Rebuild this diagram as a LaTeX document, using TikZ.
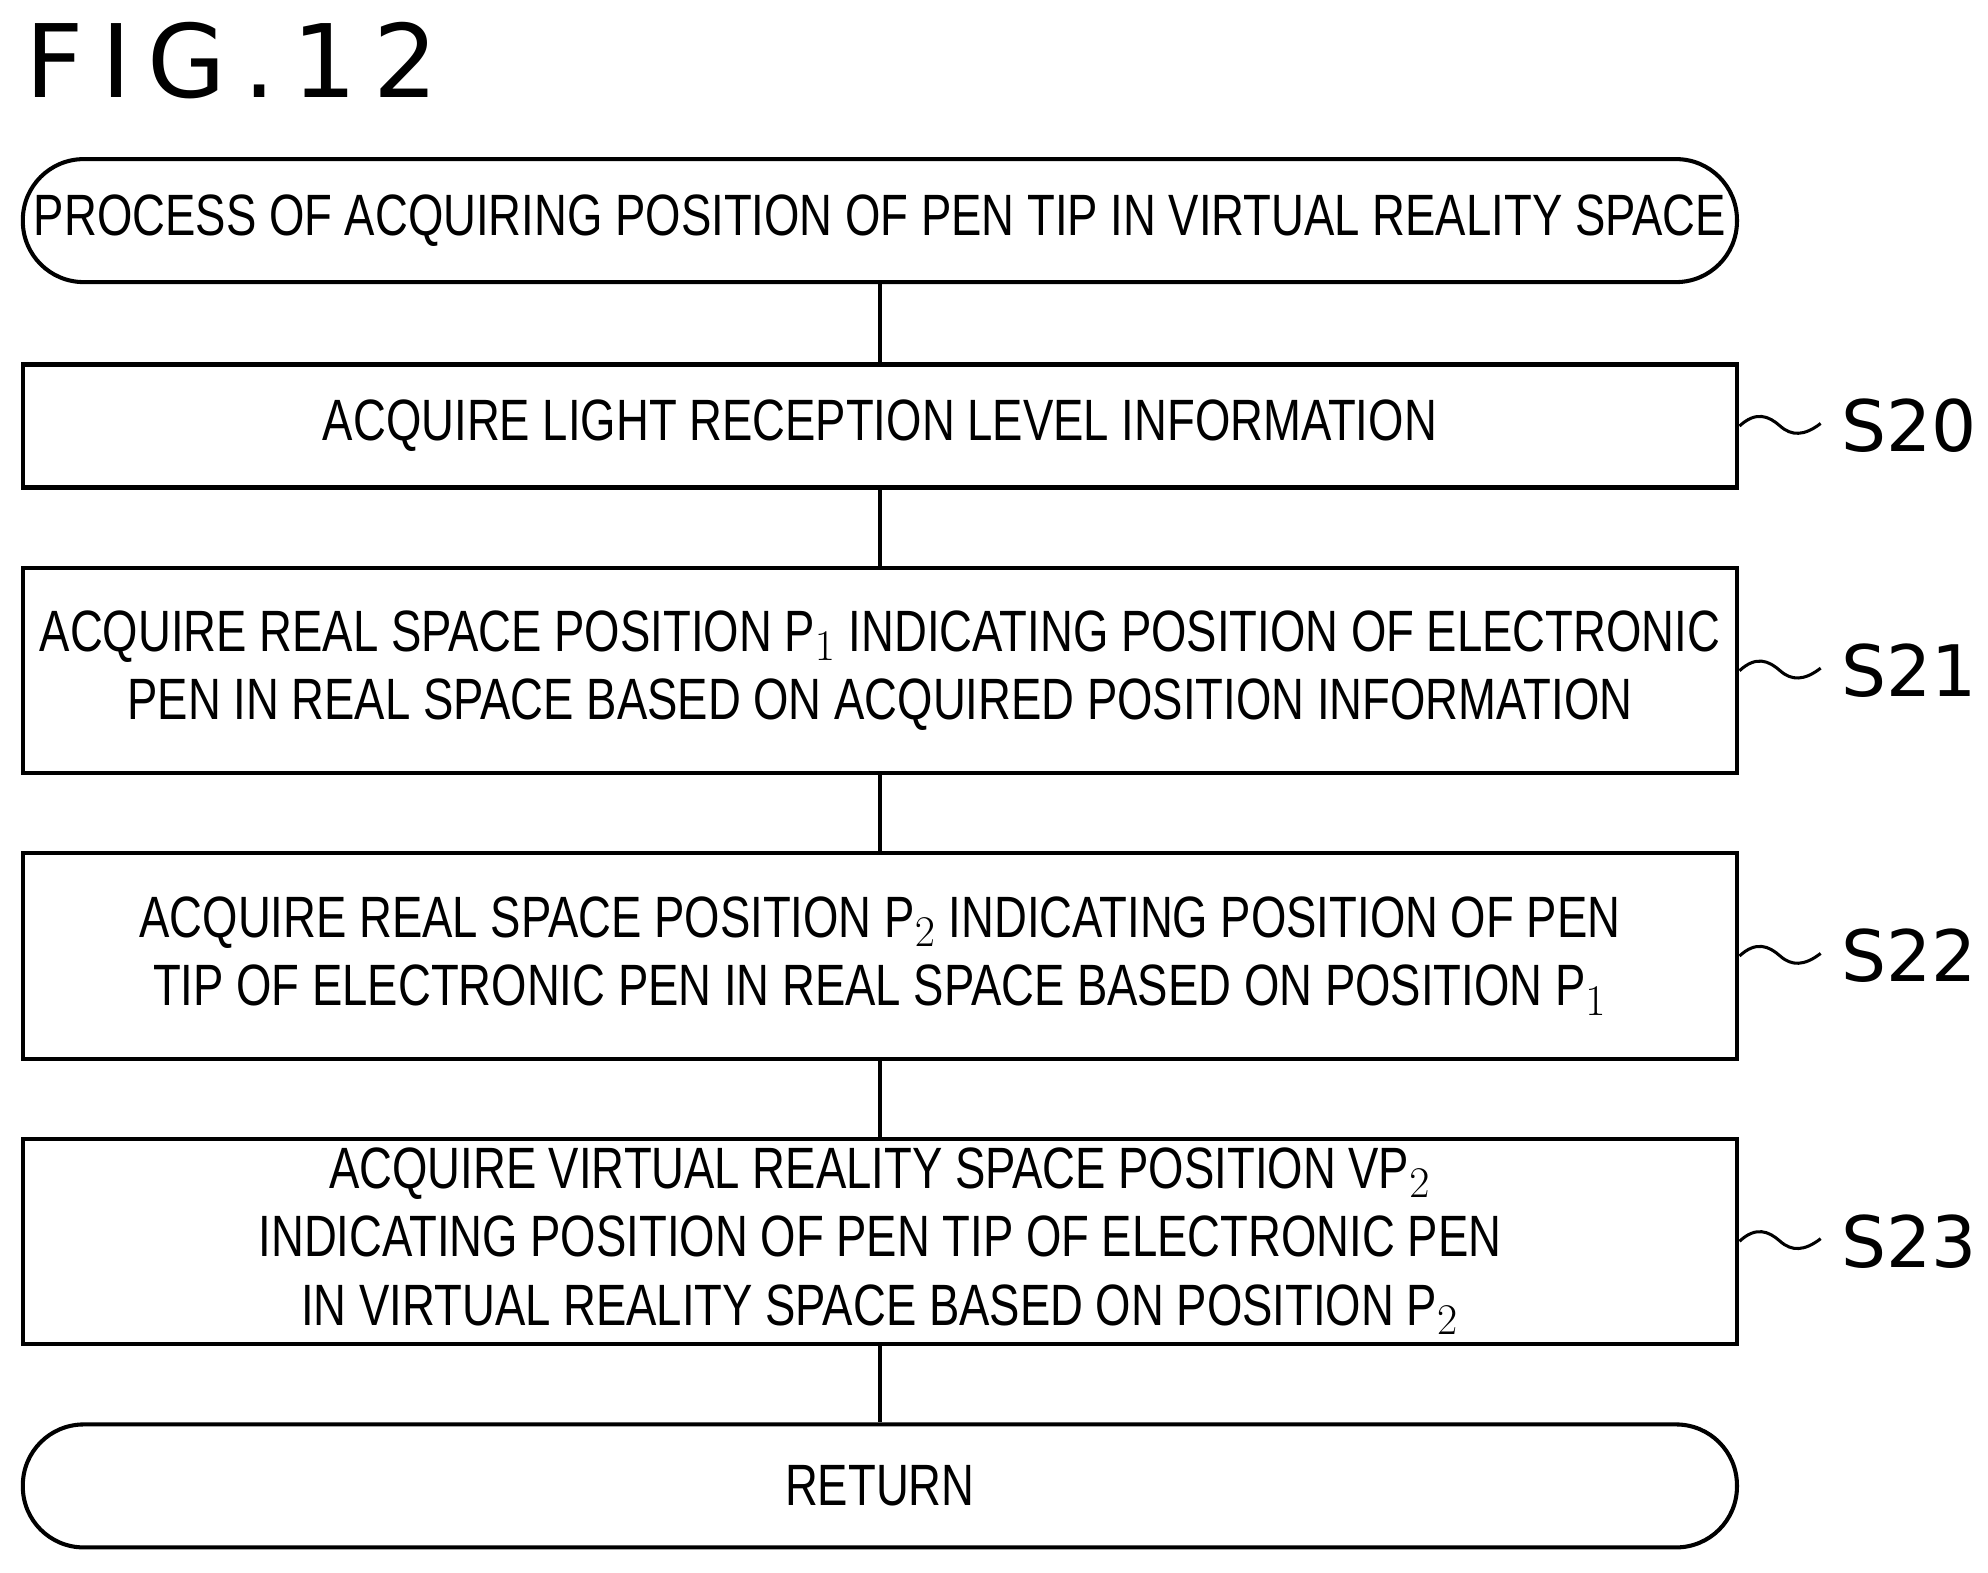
\documentclass[tikz,border=0pt]{standalone}
\usepackage{fontspec}
\setmainfont{Liberation Sans}[FakeStretch=0.78]
\newfontfamily\labfont{DejaVu Sans}
\begin{document}
\begin{tikzpicture}[x=0.5pt,y=-0.5pt,
  every node/.style={font=\fontsize{23}{27}\selectfont, align=center, inner sep=0pt},
  boxa/.style={draw, line width=1.6pt, minimum width=676pt, minimum height=48.5pt},
  boxb/.style={draw, line width=1.6pt, minimum width=676pt, minimum height=81pt},
  term/.style={draw, line width=1.6pt, rounded corners=24pt, minimum width=676pt, minimum height=48.5pt},
  conn/.style={line width=1.6pt},
  lab/.style={font=\labfont\fontsize{28}{30}\selectfont, anchor=west},
  tl/.style={line width=1.2pt}]
\useasboundingbox (0,0) rectangle (1568,1240);
\node[anchor=west, font=\labfont\fontsize{40}{40}\selectfont] (title) at (20,48) {F\,I\,G\,.\,1\,2};
\node[term] (s) at (694,174) {PROCESS OF ACQUIRING POSITION OF PEN TIP IN VIRTUAL REALITY SPACE};
\node[boxa] (a) at (694,336) {ACQUIRE LIGHT RECEPTION LEVEL INFORMATION};
\node[boxb] (b) at (694,529) {ACQUIRE REAL SPACE POSITION P$_1$ INDICATING POSITION OF ELECTRONIC\\PEN IN REAL SPACE BASED ON ACQUIRED POSITION INFORMATION};
\node[boxb] (c) at (694,754) {ACQUIRE REAL SPACE POSITION P$_2$ INDICATING POSITION OF PEN\\TIP OF ELECTRONIC PEN IN REAL SPACE BASED ON POSITION P$_1$};
\node[boxb] (d) at (694,979) {ACQUIRE VIRTUAL REALITY SPACE POSITION VP$_2$\\INDICATING POSITION OF PEN TIP OF ELECTRONIC PEN\\IN VIRTUAL REALITY SPACE BASED ON POSITION P$_2$};
\node[term] (e) at (694,1172) {RETURN};
\draw[conn] (s) -- (a); \draw[conn] (a) -- (b); \draw[conn] (b) -- (c);
\draw[conn] (c) -- (d); \draw[conn] (d) -- (e);
\foreach \n/\y/\t in {a/336/S20, b/529/S21, c/754/S22, d/979/S23}{
  \node[lab] (l\n) at (1452,\y) {\t};
  \coordinate (t\n) at (1372,\y);
  \draw[tl] (t\n) .. controls (1385,\y-12) and (1395,\y-8) .. (1404,\y) .. controls (1413,\y+8) and (1423,\y+8) .. (1436,\y-2);
}
\end{tikzpicture}
\end{document}
